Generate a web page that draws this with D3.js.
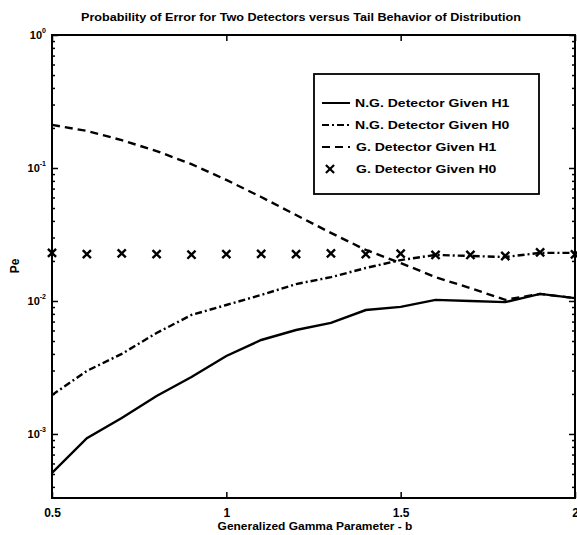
<!DOCTYPE html>
<html>
<head>
<meta charset="utf-8">
<script src="https://cdn.jsdelivr.net/npm/d3@7"></script>
<style>
  body { margin: 0; background: #fff; }
  text { font-family: "Liberation Sans", Arial, sans-serif; font-weight: bold; fill: #000; }
</style>
</head>
<body>
<div id="chart"></div>
<script>
var b = [0.5, 0.6, 0.7, 0.8, 0.9, 1.0, 1.1, 1.2, 1.3, 1.4, 1.5, 1.6, 1.7, 1.8, 1.9, 2.0];

// N.G. Detector Given H1 (solid)
var ngH1 = [5.1e-4, 9.3e-4, 1.32e-3, 1.93e-3, 2.68e-3, 3.86e-3, 5.09e-3, 6.05e-3,
            6.84e-3, 8.55e-3, 9.02e-3, 1.02e-2, 1.0e-2, 9.8e-3, 1.13e-2, 1.05e-2];
// N.G. Detector Given H0 (dash-dot)
var ngH0 = [1.96e-3, 2.98e-3, 4.0e-3, 5.75e-3, 7.85e-3, 9.33e-3, 1.11e-2, 1.34e-2,
            1.51e-2, 1.77e-2, 2.03e-2, 2.22e-2, 2.18e-2, 2.14e-2, 2.3e-2, 2.3e-2];
// G. Detector Given H1 (dashed)
var gH1 = [0.211, 0.190, 0.162, 0.134, 0.107, 0.0813, 0.0605, 0.0443,
           0.0325, 0.0242, 0.0193, 0.0151, 0.0125, 0.0102, 0.0113, 0.0105];
// G. Detector Given H0 (x markers)
var gH0 = [0.0230, 0.0225, 0.0228, 0.0225, 0.0223, 0.0225, 0.0226, 0.0225,
           0.0228, 0.0225, 0.0227, 0.0222, 0.0222, 0.0218, 0.0232, 0.0224];

var xTicks = [0.5, 1, 1.5, 2];
var xTickLabels = ["0.5", "1", "1.5", "2"];
var yTicks = [1, 0.1, 0.01, 0.001];
var yTickExp = ["0", "-1", "-2", "-3"];
var legendLabels = ["N.G. Detector Given H1", "N.G. Detector Given H0", "G. Detector Given H1", "G. Detector Given H0"];

var width = 577, height = 535,
    pL = 52, pR = 575, pT = 35, pB = 498;

var svg = d3.select("#chart").append("svg")
    .attr("width", width)
    .attr("height", height);

var x = d3.scaleLinear().domain([0.5, 2]).range([pL, pR]);
var y = d3.scaleLog().domain([3.3e-4, 1]).range([pB, pT]);

// stretch text horizontally (the scanned font is wide)
function widen(sel, k) {
  sel.each(function() {
    var w = this.getComputedTextLength();
    d3.select(this).attr("textLength", w * k).attr("lengthAdjust", "spacingAndGlyphs");
  });
}

// minor log ticks
var minors = [];
[-4, -3, -2, -1].forEach(function(k) {
  for (var m = 2; m <= 9; m++) {
    var v = m * Math.pow(10, k);
    if (v >= 3.3e-4 && v < 1) minors.push(v);
  }
});

function styleAxis(g) {
  g.select(".domain").remove();
  g.selectAll("line").attr("stroke", "#000").attr("stroke-width", 1.5);
}

svg.append("g").attr("transform", "translate(" + pL + ",0)")
  .call(d3.axisLeft(y).tickValues(minors).tickSize(-3).tickFormat(""))
  .call(styleAxis);
svg.append("g").attr("transform", "translate(" + pR + ",0)")
  .call(d3.axisRight(y).tickValues(minors).tickSize(-3).tickFormat(""))
  .call(styleAxis);
svg.append("g").attr("transform", "translate(" + pL + ",0)")
  .call(d3.axisLeft(y).tickValues(yTicks).tickSize(-6).tickFormat(""))
  .call(styleAxis);
svg.append("g").attr("transform", "translate(" + pR + ",0)")
  .call(d3.axisRight(y).tickValues(yTicks).tickSize(-6).tickFormat(""))
  .call(styleAxis);

var xAxis = svg.append("g").attr("transform", "translate(0," + pB + ")")
  .call(d3.axisBottom(x).tickValues(xTicks).tickSize(-6).tickPadding(10)
        .tickFormat(function(d, i) { return xTickLabels[i]; }))
  .call(styleAxis);
xAxis.selectAll("text").style("font-size", "12px").attr("font-family", null);
svg.append("g").attr("transform", "translate(0," + pT + ")")
  .call(d3.axisTop(x).tickValues(xTicks).tickSize(-6).tickFormat(""))
  .call(styleAxis);

// frame
svg.append("rect")
  .attr("x", pL).attr("y", pT)
  .attr("width", pR - pL).attr("height", pB - pT)
  .attr("fill", "none").attr("stroke", "#000").attr("stroke-width", 2);

// y tick labels with superscripts
var yl = svg.append("g").selectAll("text")
  .data(yTicks).enter().append("text")
  .attr("x", 46)
  .attr("y", function(d) { return y(d) + 4; })
  .attr("text-anchor", "end")
  .style("font-size", "11px");
yl.append("tspan").text("10");
yl.append("tspan").attr("dy", -6).style("font-size", "7px")
  .text(function(d, i) { return yTickExp[i]; });

// curves
var line = d3.line()
  .x(function(d, i) { return x(b[i]); })
  .y(function(d) { return y(d); });

svg.append("clipPath").attr("id", "clip")
  .append("rect").attr("x", pL).attr("y", pT)
  .attr("width", pR - pL).attr("height", pB - pT);

var plot = svg.append("g").attr("clip-path", "url(#clip)");

var series = [
  {v: ngH1, dash: null},
  {v: ngH0, dash: "7,3,2,3"},
  {v: gH1, dash: "8,5"}
];
series.forEach(function(s) {
  plot.append("path")
    .datum(s.v)
    .attr("d", line)
    .attr("fill", "none")
    .attr("stroke", "#000")
    .attr("stroke-width", 2.4)
    .attr("stroke-dasharray", s.dash);
});

var cross = d3.symbol().type(d3.symbolX).size(45);
svg.append("g").selectAll("path")
  .data(gH0).enter().append("path")
  .attr("d", cross)
  .attr("transform", function(d, i) { return "translate(" + x(b[i]) + "," + y(d) + ")"; })
  .attr("fill", "none")
  .attr("stroke", "#000")
  .attr("stroke-width", 2.4);

// legend
var lg = svg.append("g");
lg.append("rect")
  .attr("x", 314).attr("y", 74).attr("width", 225).attr("height", 120)
  .attr("fill", "#fff").attr("stroke", "#000").attr("stroke-width", 1.8);

var rows = lg.selectAll("g.row")
  .data(legendLabels).enter().append("g")
  .attr("transform", function(d, i) { return "translate(0," + (103 + i * 22) + ")"; });

rows.each(function(d, i) {
  var r = d3.select(this);
  if (i < 3) {
    r.append("line")
      .attr("x1", 322).attr("x2", 350).attr("y1", 0).attr("y2", 0)
      .attr("stroke", "#000").attr("stroke-width", 2)
      .attr("stroke-dasharray", series[i].dash);
  } else {
    r.append("path").attr("d", cross)
      .attr("transform", "translate(330,0)")
      .attr("fill", "none").attr("stroke", "#000").attr("stroke-width", 2.2);
  }
  r.append("text")
    .attr("x", i < 2 ? 355 : 356)
    .attr("y", 4)
    .style("font-size", "11.5px")
    .text(d);
});
widen(rows.selectAll("text"), 1.22);

// titles
svg.append("text")
  .attr("x", 301).attr("y", 21)
  .attr("text-anchor", "middle")
  .style("font-size", "10.5px")
  .text("Probability of Error for Two Detectors versus Tail Behavior of Distribution")
  .call(widen, 1.2);

svg.append("text")
  .attr("x", 315).attr("y", 530)
  .attr("text-anchor", "middle")
  .style("font-size", "11.5px")
  .text("Generalized Gamma Parameter - b")
  .call(widen, 1.04);

svg.append("text")
  .attr("transform", "translate(19,266) rotate(-90)")
  .attr("text-anchor", "middle")
  .style("font-size", "12px")
  .text("Pe");
</script>
</body>
</html>
